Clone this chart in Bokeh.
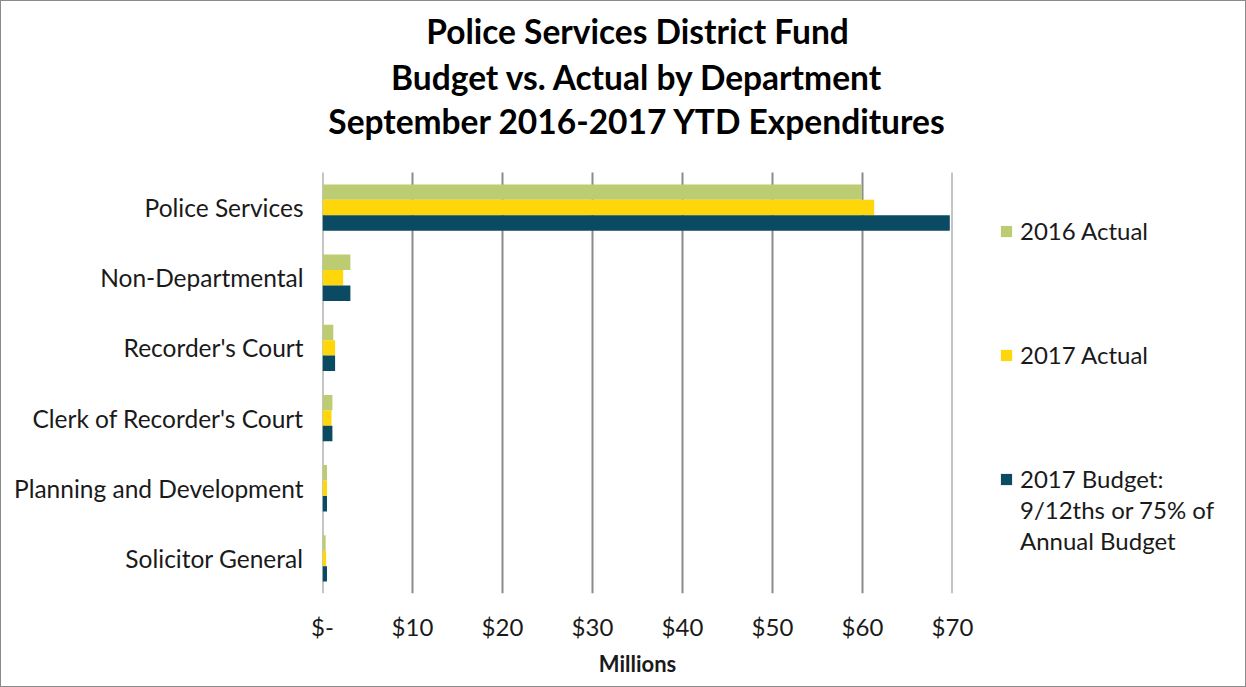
from bokeh.plotting import figure
from bokeh.layouts import row
from bokeh.models import ColumnDataSource, Legend, LegendItem, Label, FixedTicker, Range1d
from bokeh.embed import file_html
from bokeh.resources import INLINE

categories = ["Police Services", "Non-Departmental", "Recorder's Court",
              "Clerk of Recorder's Court", "Planning and Development", "Solicitor General"]
actual_2016 = [59.9, 3.1, 1.2, 1.1, 0.5, 0.35]
actual_2017 = [61.3, 2.3, 1.4, 1.0, 0.5, 0.4]
budget_2017 = [69.7, 3.1, 1.4, 1.1, 0.5, 0.5]
series_labels = ["2016 Actual", "2017 Actual", "2017 Budget:"]
budget_label_extra = ["9/12ths or 75% of", "Annual Budget"]
series_colors = ["#BBCC72", "#FFD60A", "#0B4A63"]
x_ticks = [0, 10, 20, 30, 40, 50, 60, 70]
x_tick_labels = ["$-", "$10", "$20", "$30", "$40", "$50", "$60", "$70"]
title_lines = ["Police Services District Fund", "Budget vs. Actual by Department",
               "September 2016-2017 YTD Expenditures"]
x_axis_title = "Millions"

FONT = "Lato"
TXT = "#1a1a1a"

n = len(categories)
ypos = [n - 0.5 - i for i in range(n)]
bar_h = 0.22

source = ColumnDataSource(dict(
    cat=categories, a16=actual_2016, a17=actual_2017, b17=budget_2017,
    y16=[y + bar_h for y in ypos], y17=ypos, yb=[y - bar_h for y in ypos]))
series_cols = [("a16", "y16"), ("a17", "y17"), ("b17", "yb")]

# main chart: frame 322..952 px horizontally, canvas top..593 px vertically
y_top = 592.0 / 70.17
p = figure(width=981, height=685, output_backend="svg", toolbar_location=None,
           x_range=Range1d(0, 70), y_range=Range1d(0, y_top),
           min_border_left=321, min_border_right=30, min_border_top=0, min_border_bottom=93)
p.outline_line_color = None
p.xgrid.grid_line_color = None
p.ygrid.grid_line_color = None

# vertical gridlines only across the category area
p.segment(x0=x_ticks, x1=x_ticks, y0=[0] * len(x_ticks), y1=[n] * len(x_ticks),
          line_color="#8c8c8c", line_width=2)

for (col, ycol), color in zip(series_cols, series_colors):
    p.hbar(y=ycol, right=col, left=0, height=bar_h, source=source,
           fill_color=color, line_color=None)

# x axis
p.xaxis.ticker = FixedTicker(ticks=x_ticks)
p.xaxis.major_label_overrides = {t: l for t, l in zip(x_ticks, x_tick_labels)}
p.xaxis.axis_line_color = None
p.xaxis.major_tick_line_color = None
p.xaxis.minor_tick_line_color = None
p.xaxis.major_label_text_font = FONT
p.xaxis.major_label_text_font_size = "24px"
p.xaxis.major_label_text_color = TXT
p.xaxis.major_label_standoff = 12
p.xaxis.axis_label = x_axis_title
p.xaxis.axis_label_text_font = FONT
p.xaxis.axis_label_text_font_size = "22px"
p.xaxis.axis_label_text_font_style = "bold"
p.xaxis.axis_label_text_color = TXT
p.xaxis.axis_label_standoff = 6

# y axis
p.yaxis.ticker = FixedTicker(ticks=ypos)
p.yaxis.major_label_overrides = {y: c for y, c in zip(ypos, categories)}
p.yaxis.axis_line_color = None
p.yaxis.major_tick_line_color = None
p.yaxis.minor_tick_line_color = None
p.yaxis.major_label_text_font = FONT
p.yaxis.major_label_text_font_size = "24.5px"
p.yaxis.major_label_text_color = TXT
p.yaxis.major_label_standoff = 13

# title lines
for line, yy in zip(title_lines, [8.01, 7.354, 6.727]):
    p.add_layout(Label(x=35, y=yy, text=line, text_align="center", text_baseline="middle",
                       text_font=FONT, text_font_size="33.5px", text_font_style="bold",
                       text_color="#000000"))

# legend panel (series re-drawn outside its visible x range, used only as legend keys)
q = figure(width=263, height=685, output_backend="svg", toolbar_location=None,
           x_range=Range1d(-3, -2), y_range=Range1d(0, y_top),
           x_axis_location=None, y_axis_location=None,
           min_border_left=0, min_border_right=0, min_border_top=0, min_border_bottom=93)
q.outline_line_color = None
q.grid.visible = False

keys = [q.hbar(y=ycol, right=col, left=0, height=bar_h, source=source,
               fill_color=c, line_color=None)
        for (col, ycol), c in zip(series_cols, series_colors)]
spacer = q.hbar(y="y17", right="a16", left=0, height=bar_h, source=source,
                fill_alpha=0, line_alpha=0)

rows = [(series_labels[0], keys[0]), (" ", spacer), (" ", spacer), (" ", spacer),
        (series_labels[1], keys[1]), (" ", spacer), (" ", spacer), (" ", spacer),
        (series_labels[2], keys[2]),
        (budget_label_extra[0], spacer), (budget_label_extra[1], spacer)]
legend = Legend(items=[LegendItem(label=l, renderers=[r]) for l, r in rows],
                location=(17, 37), orientation="vertical",
                glyph_width=14, glyph_height=14, label_standoff=7, spacing=0, label_height=31,
                label_text_font=FONT, label_text_font_size="24px", label_text_color=TXT,
                label_text_line_height=1.0,
                margin=0, padding=0, background_fill_alpha=0, border_line_color=None)
q.add_layout(legend, "center")

layout = row(p, q, styles={"border": "1px solid #8a8a8a"})
open("out.html", "w").write(file_html(layout, INLINE))
